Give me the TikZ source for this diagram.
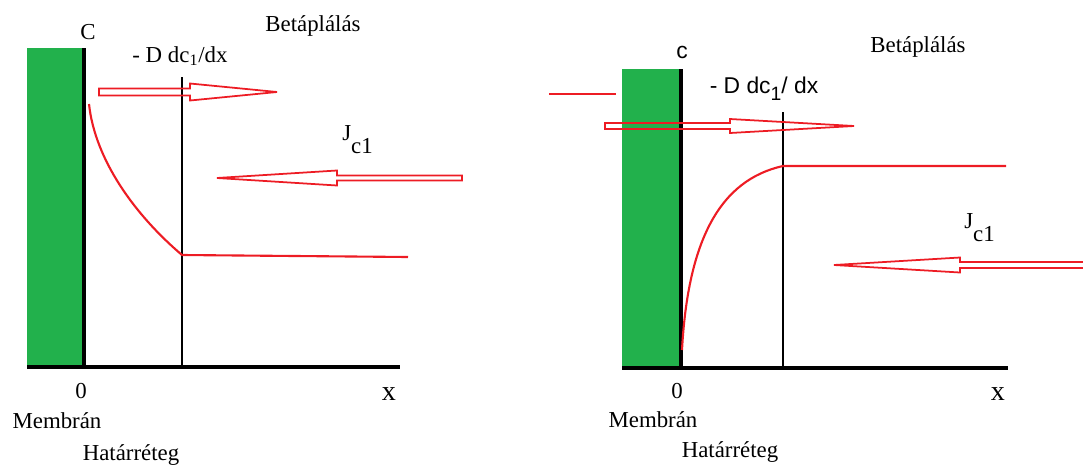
\documentclass[tikz,border=0pt]{standalone}
\usepackage{fontspec}
\setmainfont{Liberation Serif}
\newfontfamily\sansfnt{Liberation Sans}
\usepackage{tikz}
\usetikzlibrary{positioning, calc}
\definecolor{membrangreen}{RGB}{34,177,76}
\definecolor{fluxred}{RGB}{237,28,36}

\begin{document}
\begin{tikzpicture}[x=0.02cm, y=-0.02cm,
    txt/.style={font=\fontsize{13}{15}\selectfont, inner sep=0pt, anchor=base},
    sanstxt/.style={font=\sansfnt\fontsize{13}{15}\selectfont, inner sep=0pt, anchor=base},
    bigtxt/.style={font=\fontsize{16}{18}\selectfont, inner sep=0pt, anchor=base},
    wall/.style={line width=2.2pt},
    layer/.style={line width=1.1pt},
    profile/.style={fluxred, line width=1.2pt},
    hollow/.style={fluxred, line width=1pt, line join=miter}]
  \useasboundingbox (0,0) rectangle (1083,467);

  % ---------------- Left panel: concentration drops towards the membrane
  \fill[membrangreen] (27,48) rectangle (84,367);
  \draw[wall] (84,48) -- (84,367);
  \draw[wall] (27,367) -- (400,367);
  \draw[layer] (182,77) -- (182,367);
  % flux arrow to the right (hollow)
  \draw[hollow] (277,92) -- (190,83.5) -- (190,88.5) -- (99,88.5) -- (99,95.5)
    -- (190,95.5) -- (190,100.5) -- cycle;
  % flux arrow to the left (hollow)
  \draw[hollow] (217,178) -- (337,170.5) -- (337,175.5) -- (462,175.5) -- (462,180.5)
    -- (337,180.5) -- (337,185.5) -- cycle;
  % concentration profile
  \draw[profile] (89,104) .. controls (95,160) and (135,215) .. (182,255) -- (408,257);
  % labels
  \node[txt] (cL) at (88,39) {C};
  \node[txt] (fluxL) at (180,62) {- D dc\textsubscript{1}/dx};
  \node[txt] (feedL) at (313,31) {Betáplálás};
  \node[txt, anchor=base west] (jL) at (342,140) {J\raisebox{-1.25ex}{c1}};
  \node[txt] (zeroL) at (81,398) {0};
  \node[bigtxt] (xL) at (389,400) {x};
  \node[txt] (membL) at (57,428) {Membrán};
  \node[txt] (layerL) at (131,460) {Határréteg};

  % ---------------- Right panel: concentration rises towards the boundary layer
  \fill[membrangreen] (622,69) rectangle (681,368);
  \draw[wall] (681,69) -- (681,368);
  \draw[wall] (622,368) -- (1008,368);
  \draw[layer] (783,112) -- (783,368);
  \draw[profile] (549,94) -- (616,94);
  % flux arrow to the right (hollow)
  \draw[hollow] (854,126) -- (730,119) -- (730,123) -- (605,123) -- (605,129)
    -- (730,129) -- (730,133) -- cycle;
  % flux arrow to the left (hollow)
  \draw[hollow] (834,265) -- (960,257.5) -- (960,262) -- (1084,262) -- (1084,268)
    -- (960,268) -- (960,272.5) -- cycle;
  % concentration profile
  \draw[profile] (682,350) .. controls (688,240) and (720,180) .. (783,166) -- (1006,166);
  % labels
  \node[sanstxt] (cR) at (682,58) {c};
  \node[sanstxt] (fluxR) at (764,93) {- D dc\raisebox{-0.6ex}{\fontsize{11}{13}\selectfont 1}/ dx};
  \node[txt] (feedR) at (918,52) {Betáplálás};
  \node[txt, anchor=base west] (jR) at (964,228) {J\raisebox{-1.25ex}{c1}};
  \node[txt] (zeroR) at (677,398) {0};
  \node[bigtxt] (xR) at (998,400) {x};
  \node[txt] (membR) at (653,427) {Membrán};
  \node[txt] (layerR) at (730,457) {Határréteg};
\end{tikzpicture}
\end{document}
